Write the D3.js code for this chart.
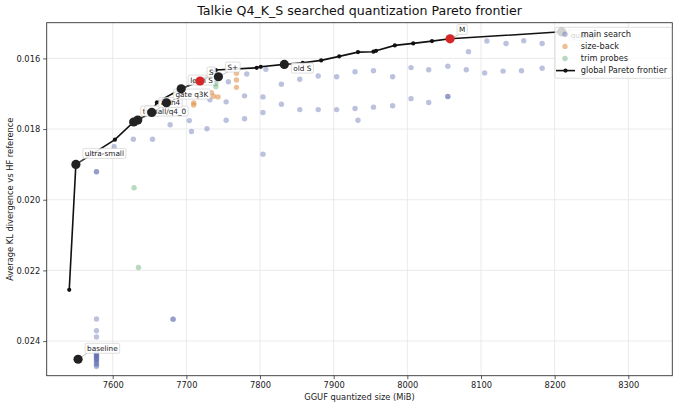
<!DOCTYPE html>
<html><head><meta charset="utf-8">
<script src="https://cdn.jsdelivr.net/npm/d3@7"></script>
<style>body{margin:0;background:#fff} svg{display:block} text{font-family:"DejaVu Sans",sans-serif}</style>
</head><body><svg id="c" width="680" height="412"></svg>
<script>
// ---------------- data ----------------
const xTicks = [7600,7700,7800,7900,8000,8100,8200,8300];
const yTicks = [0.016,0.018,0.020,0.022,0.024];

const mainSize = [7578,7578,7578,7578,7578,7578,7578,7578,7578,7578,7578,7578,7578,7578,7578,7578,7578,7578,7578,
  7602,7628,7654,7678,7682,7682,7704,7707,7728,7732,7754,7754,7757,7779,7779,7782,7804,7804,7804,7808,
  7829,7829,7854,7854,7879,7879,7904,7904,7929,7929,7933,7954,7954,7980,7980,8005,8005,8029,8029,
  8055,8055,8055,8080,8083,8105,8108,8130,8134,8155,8158,8183,8183,8214];
const mainKL = [0.023375,0.023706,0.023884,0.02432,0.02436,0.02440,0.02444,0.02448,0.02452,0.02456,0.02460,0.02464,0.02468,0.02472,0.02434,0.02442,0.02450,0.01921,0.01921,
  0.01850,0.01829,0.01829,0.01788,0.02338,0.02338,0.01776,0.01807,0.01799,0.01717,0.01775,0.01723,0.01666,0.01771,0.01706,0.01644,0.01753,0.01709,0.01871,0.01631,
  0.01673,0.01730,0.01659,0.01745,0.01650,0.01745,0.01652,0.01745,0.01638,0.01742,0.01775,0.01635,0.01738,0.01652,0.01734,0.01626,0.01714,0.01632,0.01725,
  0.01622,0.01708,0.01708,0.01632,0.01581,0.01641,0.01551,0.01636,0.01558,0.01635,0.01550,0.01628,0.01558,0.01531];

const sizeBackSize = [7768,7768,7768,7710,7710,7734,7743,7737];
const sizeBackKL   = [0.01642,0.01661,0.01682,0.01726,0.01732,0.01697,0.01709,0.01707];

const trimSize = [7740,7740,7629,7635];
const trimKL   = [0.01671,0.01680,0.01966,0.02192];

const frontierSize = [7541,7550,7603,7628.5,7634,7653,7660,7693,7718.5,7740,7795.5,7801,7833,7858,7883,7907.5,7933,7954,7957.5,7983,8008,8033.5,8058,8209.5];
const frontierKL   = [0.02255,0.01900,0.01830,0.01780,0.017745,0.01753,0.017245,0.01686,0.01664,0.01633,0.016266,0.016238,0.01617,0.016124,0.016057,0.015943,0.015822,0.01581,0.015785,0.015632,0.015576,0.015511,0.015446,0.015248];

const hlNames = ["baseline","ultra-small","tiny","small/q4_0","attn4","gate q3K","lean S","S","S+","old S","M","quality"];
const hlSize  = [7553,7550,7628.5,7634,7653,7673,7693,7718.5,7743.5,7833,8058,8209.5];
const hlKL    = [0.024515,0.0190,0.0178,0.017745,0.01753,0.017256,0.01686,0.01664,0.01652,0.01617,0.015446,0.015248];
const hlChosen = ["S","M"];

const legendLabels = ["main search","size-back","trim probes","global Pareto frontier"];

// ---------------- layout / style ----------------
const W = 680, H = 412;
const M = {l:46.7, r:7.7, t:22.7, b:36.3};
const labelDy = {"baseline":-11,"ultra-small":-11,"tiny":-11,"small/q4_0":-9,"attn4":-10,"gate q3K":-8.7,
  "lean S":-8.7,"S":-9,"S+":-9.7,"old S":3.7,"M":-9.4,"quality":3.3};
const C = {main:"#5f6bb0", back:"#e08a3c", trim:"#55a868", red:"#d62728", dark:"#222"};

const svg = d3.select("#c");
const x = d3.scaleLinear().domain([7510.4, 8359.7]).range([M.l, W - M.r]);
const y = d3.scaleLinear().domain([0.01499, 0.02498]).range([M.t, H - M.b]);

// grid
const g = svg.append("g");
g.selectAll(".gx").data(xTicks).join("line")
  .attr("x1", d => x(d)).attr("x2", d => x(d)).attr("y1", M.t).attr("y2", H - M.b)
  .attr("stroke", "#e4e4e4").attr("stroke-width", 0.8);
g.selectAll(".gy").data(yTicks).join("line")
  .attr("y1", d => y(d)).attr("y2", d => y(d)).attr("x1", M.l).attr("x2", W - M.r)
  .attr("stroke", "#e4e4e4").attr("stroke-width", 0.8);

// axes
const xAxis = d3.axisBottom(x).tickValues(xTicks).tickSize(3.5).tickPadding(3).tickFormat(d3.format("d"));
const yAxis = d3.axisLeft(y).tickValues(yTicks).tickSize(3.5).tickPadding(3).tickFormat(d3.format(".3f"));
const ax = svg.append("g").attr("transform", `translate(0,${H - M.b})`).call(xAxis);
const ay = svg.append("g").attr("transform", `translate(${M.l},0)`).call(yAxis);
[ax, ay].forEach(a => {
  a.select(".domain").remove();
  a.selectAll(".tick line").attr("stroke", "#333").attr("stroke-width", 0.8);
  a.selectAll(".tick text").attr("fill", "#222").style("font-size", "8.3px").style("font-family", "DejaVu Sans");
});

// scatter helpers
function scatter(sizes, kls, color, op, r) {
  svg.append("g").selectAll("circle").data(d3.range(sizes.length)).join("circle")
    .attr("cx", i => x(sizes[i])).attr("cy", i => y(kls[i])).attr("r", r)
    .attr("fill", color).attr("fill-opacity", op);
}
scatter(mainSize, mainKL, C.main, 0.42, 2.7);
scatter(sizeBackSize, sizeBackKL, C.back, 0.55, 2.7);
scatter(trimSize, trimKL, C.trim, 0.42, 2.7);

// frontier
const fIdx = d3.range(frontierSize.length);
svg.append("path").datum(fIdx)
  .attr("d", d3.line().x(i => x(frontierSize[i])).y(i => y(frontierKL[i])))
  .attr("fill", "none").attr("stroke", "#111").attr("stroke-width", 1.6);
svg.append("g").selectAll("circle").data(fIdx).join("circle")
  .attr("cx", i => x(frontierSize[i])).attr("cy", i => y(frontierKL[i])).attr("r", 2.1).attr("fill", "#111");

// labels
const lg = svg.append("g");
const hIdx = d3.range(hlNames.length);
hIdx.forEach(i => {
  const px = x(hlSize[i]), py = y(hlKL[i]);
  const bx = px + 7, cy = py + labelDy[hlNames[i]];
  const t = lg.append("text").attr("x", bx + 2).attr("y", cy).attr("dy", "0.35em")
    .style("font-size", "7.3px").attr("fill", "#222").text(hlNames[i]);
  const w = t.node().getComputedTextLength();
  lg.insert("line", "text:last-of-type")
    .attr("x1", px).attr("y1", py).attr("x2", bx + 2).attr("y2", cy + (labelDy[hlNames[i]] < 0 ? 5 : -5))
    .attr("stroke", "#999").attr("stroke-width", 0.6);
  lg.insert("rect", "text:last-of-type")
    .attr("x", bx).attr("y", cy - 5).attr("width", w + 4).attr("height", 10).attr("rx", 1.5)
    .attr("fill", "#fff").attr("fill-opacity", 0.88).attr("stroke", "#c8c8c8").attr("stroke-width", 0.6);
});

// highlighted big dots
svg.append("g").selectAll("circle").data(hIdx).join("circle")
  .attr("cx", i => x(hlSize[i])).attr("cy", i => y(hlKL[i])).attr("r", 4.6)
  .attr("fill", i => hlChosen.includes(hlNames[i]) ? C.red : C.dark);

// frame
svg.append("rect").attr("x", M.l).attr("y", M.t).attr("width", W - M.l - M.r).attr("height", H - M.t - M.b)
  .attr("fill", "none").attr("stroke", "#333").attr("stroke-width", 0.9);

// titles
svg.append("text").attr("x", (M.l + W - M.r) / 2).attr("y", 15).attr("text-anchor", "middle")
  .style("font-size", "12.6px").attr("fill", "#111").text("Talkie Q4_K_S searched quantization Pareto frontier");
svg.append("text").attr("x", (M.l + W - M.r) / 2).attr("y", 400).attr("text-anchor", "middle")
  .style("font-size", "8.3px").attr("fill", "#222").text("GGUF quantized size (MiB)");
svg.append("text").attr("transform", `translate(13,${(M.t + H - M.b) / 2}) rotate(-90)`).attr("text-anchor", "middle")
  .style("font-size", "8.3px").attr("fill", "#222").text("Average KL divergence vs HF reference");

// legend
const L = svg.append("g").attr("transform", `translate(${W - M.r - 117.3},${M.t + 4.6})`);
L.append("rect").attr("width", 116.7).attr("height", 51).attr("rx", 2)
  .attr("fill", "#fff").attr("fill-opacity", 0.8).attr("stroke", "#d0d0d0").attr("stroke-width", 0.7);
const legColors = [C.main, C.back, C.trim];
const legOp = [0.42, 0.55, 0.42];
legendLabels.forEach((lab, i) => {
  const yy = 7 + i * 12.1;
  if (i < 3) {
    L.append("circle").attr("cx", 10).attr("cy", yy).attr("r", 2.7).attr("fill", legColors[i]).attr("fill-opacity", legOp[i]);
  } else {
    L.append("line").attr("x1", 1).attr("x2", 20).attr("y1", yy).attr("y2", yy).attr("stroke", "#111").attr("stroke-width", 1.6);
    L.append("circle").attr("cx", 10.5).attr("cy", yy).attr("r", 2.1).attr("fill", "#111");
  }
  L.append("text").attr("x", 25.7).attr("y", yy).attr("dy", "0.35em").style("font-size", "8.2px").attr("fill", "#222").text(lab);
});
</script></body></html>
